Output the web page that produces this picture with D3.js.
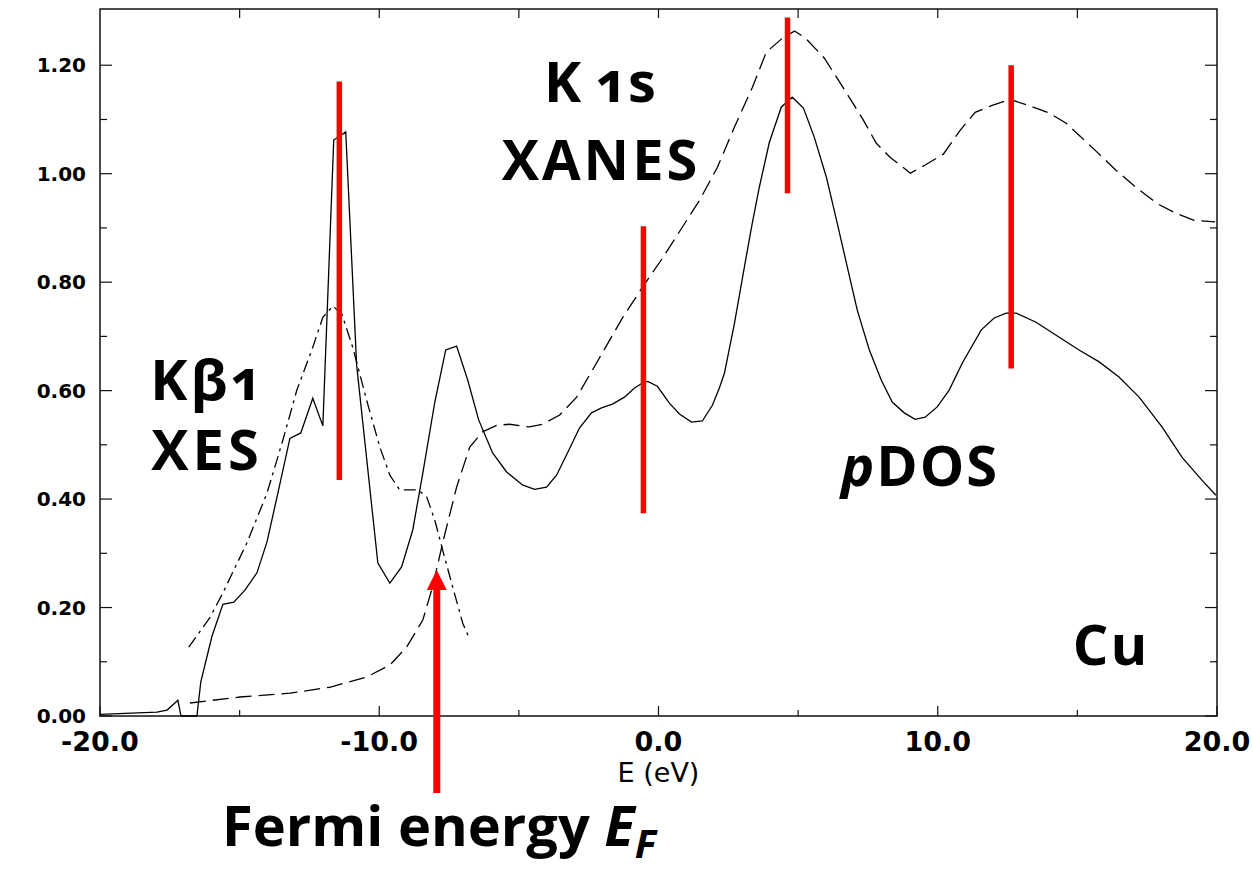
<!DOCTYPE html>
<html>
<head>
<meta charset="utf-8">
<script src="https://cdnjs.cloudflare.com/ajax/libs/d3/7.8.5/d3.min.js"></script>
<style>
  body { margin: 0; background: #fff; }
  svg { display: block; }
</style>
</head>
<body>
<svg id="chart" width="1253" height="869"></svg>
<script>
// pDOS (solid line)
var pdosE = [-20.0, -17.96, -17.6, -17.21, -17.1, -16.53, -16.39, -15.99, -15.6, -15.21, -14.81, -14.38,
  -14.02, -13.63, -13.2, -12.81, -12.38, -12.02, -11.63, -11.2, -10.81, -10.05, -9.62, -9.2, -8.8, -8.44,
  -8.01, -7.62, -7.23, -6.83, -6.44, -5.94, -5.44, -4.87, -4.44, -4.01, -3.65, -3.26, -2.83, -2.4, -2.04,
  -1.65, -1.22, -0.86, -0.57, -0.39, -0.04, 0.39, 0.75, 1.18, 1.57, 1.93, 2.18, 2.36, 2.72, 3.01, 3.33,
  3.61, 3.97, 4.4, 4.79, 5.19, 5.58, 6.01, 6.4, 6.76, 7.12, 7.55, 7.98, 8.37, 8.8, 9.19, 9.55, 9.98, 10.41,
  10.88, 11.56, 12.02, 12.45, 12.81, 13.52, 14.24, 15.06, 15.78, 16.49, 17.21, 18.03, 18.75, 19.46, 19.96];
var pdosV = [0.003, 0.007, 0.011, 0.029, 0.0, 0.0, 0.063, 0.147, 0.206, 0.21, 0.232, 0.264,
  0.321, 0.411, 0.512, 0.522, 0.586, 0.535, 1.062, 1.077, 0.647, 0.282, 0.245, 0.275, 0.343, 0.448,
  0.579, 0.675, 0.682, 0.619, 0.546, 0.485, 0.45, 0.426, 0.418, 0.422, 0.444, 0.485, 0.531, 0.559, 0.568,
  0.575, 0.588, 0.605, 0.614, 0.617, 0.608, 0.577, 0.557, 0.542, 0.544, 0.573, 0.605, 0.632, 0.724, 0.809, 0.901,
  0.975, 1.058, 1.123, 1.141, 1.121, 1.067, 0.994, 0.909, 0.828, 0.748, 0.675, 0.619, 0.579, 0.559, 0.547, 0.551, 0.57, 0.601,
  0.651, 0.712, 0.734, 0.743, 0.743, 0.726, 0.702, 0.675, 0.653, 0.625, 0.588, 0.533, 0.477, 0.435, 0.407];

// K 1s XANES (dashed line)
var xanesE = [-16.78, -14.99, -13.2, -11.77, -10.45, -9.62, -9.02, -8.44, -8.09, -7.73, -7.23, -6.76,
  -6.3, -5.8, -5.33, -4.62, -4.15, -3.54, -2.93, -2.22, -1.29, -0.57, 0.14, 1.47, 2.11, 2.72, 3.36, 3.86,
  4.44, 4.87, 5.26, 5.94, 6.51, 7.3, 7.8, 8.3, 9.02, 9.55, 10.2, 10.8, 11.34, 11.95, 12.59, 13.24, 13.99,
  14.6, 15.06, 15.64, 16.39, 17.14, 17.89, 18.53, 19.18, 19.93];
var xanesV = [0.024, 0.035, 0.042, 0.053, 0.072, 0.094, 0.127, 0.177, 0.238, 0.319, 0.422, 0.496,
  0.524, 0.536, 0.538, 0.533, 0.538, 0.555, 0.588, 0.651, 0.734, 0.791, 0.844, 0.951, 1.012, 1.086, 1.159, 1.224,
  1.25, 1.263, 1.25, 1.213, 1.167, 1.102, 1.056, 1.03, 1.001, 1.016, 1.036, 1.08, 1.113, 1.126, 1.137, 1.126, 1.112,
  1.093, 1.071, 1.043, 1.006, 0.973, 0.944, 0.927, 0.914, 0.911];

// K-beta1 XES (dash-dot line)
var xesE = [-16.82, -16.06, -15.6, -14.74, -14.02, -13.45, -12.95, -12.38, -12.02, -11.66, -11.34, -10.95,
  -10.45, -9.98, -9.62, -9.27, -8.62, -8.3, -8.01, -7.73, -7.37, -7.01, -6.8];
var xesV = [0.127, 0.182, 0.227, 0.319, 0.411, 0.509, 0.601, 0.68, 0.735, 0.756, 0.741, 0.68,
  0.582, 0.496, 0.444, 0.417, 0.417, 0.404, 0.361, 0.306, 0.238, 0.171, 0.146];

// red feature markers
var markerE = [-11.43, -0.54, 4.62, 12.63];
var markerTop = [1.17, 0.903, 1.288, 1.2];
var markerBottom = [0.435, 0.374, 0.964, 0.641];

// Fermi level arrow
var fermiE = -7.94;
var fermiTip = 0.269;
var fermiTail = -0.142;

// axes
var xMajor = [-20, -10, 0, 10, 20];
var xMinor = [-15, -5, 5, 15];
var xTop = [-15, -10, -5, 0, 5, 10, 15];
var yMajor = [0, 0.2, 0.4, 0.6, 0.8, 1.0, 1.2];
var yMinor = [0.1, 0.3, 0.5, 0.7, 0.9, 1.1];

var plotLeft = 100, plotRight = 1217, plotTop = 9, plotBottom = 716;
var red = "#ff0000";
var annoFont = "'Open Sans', 'Noto Sans', sans-serif";

var svg = d3.select("#chart");

var x = d3.scaleLinear().domain([-20, 20]).range([plotLeft, plotRight]);
var y = d3.scaleLinear().domain([0, 1.3]).range([plotBottom, 11]);

function toPoints(es, vs) {
  return es.map(function(e, i) { return [e, vs[i]]; });
}

/* frame with inward ticks on all sides */
function drawFrame() {
  var g = svg.append("g").attr("class", "frame");

  g.append("rect")
    .attr("x", plotLeft).attr("y", plotTop)
    .attr("width", plotRight - plotLeft).attr("height", plotBottom - plotTop)
    .attr("fill", "none")
    .attr("stroke", "#111")
    .attr("stroke-width", 1.5);

  // left / right ticks
  [[yMajor, 12], [yMinor, 7]].forEach(function(set) {
    set[0].forEach(function(v) {
      g.append("line")
        .attr("x1", plotLeft).attr("x2", plotLeft + set[1])
        .attr("y1", y(v)).attr("y2", y(v))
        .attr("stroke", "#111").attr("stroke-width", 1.2);
      g.append("line")
        .attr("x1", plotRight).attr("x2", plotRight - set[1])
        .attr("y1", y(v)).attr("y2", y(v))
        .attr("stroke", "#111").attr("stroke-width", 1.2);
    });
  });

  // bottom ticks
  [[xMajor, 10], [xMinor, 6]].forEach(function(set) {
    set[0].forEach(function(e) {
      g.append("line")
        .attr("x1", x(e)).attr("x2", x(e))
        .attr("y1", plotBottom).attr("y2", plotBottom - set[1])
        .attr("stroke", "#111").attr("stroke-width", 1.2);
    });
  });

  // top ticks
  xTop.forEach(function(e) {
    g.append("line")
      .attr("x1", x(e)).attr("x2", x(e))
      .attr("y1", plotTop).attr("y2", plotTop + 9)
      .attr("stroke", "#111").attr("stroke-width", 1.2);
  });

  // tick labels
  g.selectAll(".ylab")
    .data(yMajor)
    .enter()
    .append("text")
      .attr("class", "ylab")
      .attr("x", 86)
      .attr("y", function(d) { return y(d); })
      .attr("dy", "0.36em")
      .attr("text-anchor", "end")
      .style("font-family", "'DejaVu Sans', sans-serif")
      .style("font-weight", "bold")
      .style("font-size", "20px")
      .text(function(d) { return d.toFixed(2); });

  g.selectAll(".xlab")
    .data(xMajor)
    .enter()
    .append("text")
      .attr("class", "xlab")
      .attr("x", function(d) { return x(d); })
      .attr("y", 751)
      .attr("text-anchor", "middle")
      .style("font-family", "'DejaVu Sans', sans-serif")
      .style("font-weight", "bold")
      .style("font-size", "27px")
      .text(function(d) { return d.toFixed(1); });

  g.append("text")
    .attr("x", x(0))
    .attr("y", 782)
    .attr("text-anchor", "middle")
    .style("font-family", "'DejaVu Sans', sans-serif")
    .style("font-size", "27px")
    .text("E (eV)");
}

function drawCurve(es, vs, dash) {
  var line = d3.line()
    .x(function(d) { return x(d[0]); })
    .y(function(d) { return y(d[1]); });

  svg.append("path")
    .datum(toPoints(es, vs))
    .attr("d", line)
    .attr("fill", "none")
    .attr("stroke", "#000")
    .attr("stroke-width", 1.3)
    .attr("stroke-dasharray", dash);
}

function drawMarkers() {
  svg.selectAll(".marker")
    .data(markerE)
    .enter()
    .append("line")
      .attr("class", "marker")
      .attr("x1", function(d) { return x(d); })
      .attr("x2", function(d) { return x(d); })
      .attr("y1", function(d, i) { return y(markerTop[i]); })
      .attr("y2", function(d, i) { return y(markerBottom[i]); })
      .attr("stroke", red)
      .attr("stroke-width", 5.5);
}

function drawFermiArrow() {
  var ax = x(fermiE), tip = y(fermiTip);
  svg.append("line")
    .attr("x1", ax).attr("x2", ax)
    .attr("y1", y(fermiTail)).attr("y2", tip + 18)
    .attr("stroke", red)
    .attr("stroke-width", 7);
  svg.append("path")
    .attr("d", "M" + ax + "," + tip + "L" + (ax + 10) + "," + (tip + 20) + "L" + (ax - 10) + "," + (tip + 20) + "Z")
    .attr("fill", red);
}

function addLabel(px, py, parts, anchor, spacing) {
  var t = svg.append("text")
    .attr("x", px).attr("y", py)
    .attr("text-anchor", anchor || "middle")
    .style("font-family", annoFont)
    .style("font-weight", "bold")
    .style("font-size", "56px")
    .style("letter-spacing", (spacing || 0) + "px")
    .style("font-variant-numeric", "oldstyle-nums");
  parts.forEach(function(p) {
    var s = t.append("tspan").text(p.text);
    if (p.italic) s.style("font-style", "italic");
    if (p.sub) s.attr("dy", 12).style("font-size", "40px");
  });
}

drawFrame();
drawCurve(pdosE, pdosV, null);
drawCurve(xanesE, xanesV, "16,7");
drawCurve(xesE, xesV, "12,5,3,5");
drawMarkers();
drawFermiArrow();

addLabel(600, 102, [{text: "K 1s"}]);
addLabel(601, 180, [{text: "XANES"}], "middle", 3);
addLabel(208, 400, [{text: "Kβ1"}], "middle", 3);
addLabel(207, 470, [{text: "XES"}], "middle", 4);
addLabel(920, 486, [{text: "p", italic: true}, {text: "DOS"}], "middle", 2);
addLabel(1111, 665, [{text: "Cu"}], "middle", 2);
addLabel(222, 846, [{text: "Fermi energy "}, {text: "E", italic: true}, {text: "F", italic: true, sub: true}], "start");
</script>
</body>
</html>
